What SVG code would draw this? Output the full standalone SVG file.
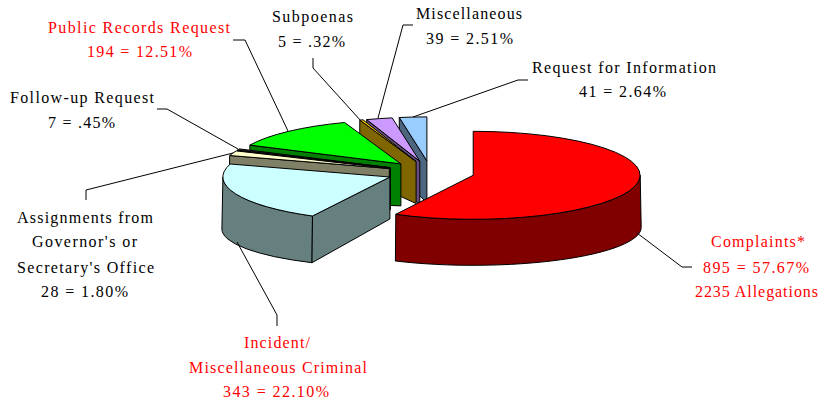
<svg xmlns="http://www.w3.org/2000/svg" width="823" height="404" viewBox="0 0 823 404">
<style>
  .f { stroke: #000; stroke-width: 1; stroke-linejoin: round; }
  .t { font-family: "Liberation Serif", "Times New Roman", serif; font-size: 16px; fill: #000; }
  .r { fill: #FF0000; }
  .lead { fill: none; stroke: #000; stroke-width: 1; }
</style>
<rect width="823" height="404" fill="#fff"/>

<g id="request-for-information">
  <path class="f" fill="#4D6680" d="M426.9,160.9 L399.3,117.5 L399.2,175.4 L426.9,202.9 Z"/>
  <path class="f" fill="#99CCFF" d="M426.9,160.9 L399.3,117.5 A167,44 0 0 1 426.9,116.9 Z"/>
  <text class="t" x="532" y="73" textLength="184" lengthAdjust="spacing">Request for Information</text>
  <text class="t" x="579" y="97" textLength="87" lengthAdjust="spacing">41 = 2.64%</text>
</g>

<g id="miscellaneous">
  <path class="f" fill="#664D80" d="M419.8,161.3 L366.7,119.6 L366.4,177.3 L419.8,203.3 Z"/>
  <path class="f" fill="#CC99FF" d="M419.8,161.3 L366.7,119.6 A167,44 0 0 1 392.2,117.9 Z"/>
  <text class="t" x="416" y="19" textLength="106" lengthAdjust="spacing">Miscellaneous</text>
  <text class="t" x="426" y="44" textLength="87" lengthAdjust="spacing">39 = 2.51%</text>
</g>

<g id="subpoenas">
  <path class="f" fill="#806600" d="M416.1,161.5 L359.8,120.1 L359.5,177.7 L416.1,203.5 Z"/>
  <path class="f" fill="#FFCC00" d="M416.1,161.5 L359.8,120.1 A167,44 0 0 1 363.0,119.8 Z"/>
  <text class="t" x="272" y="22" textLength="81" lengthAdjust="spacing">Subpoenas</text>
  <text class="t" x="278" y="47" textLength="67" lengthAdjust="spacing">5 = .32%</text>
</g>

<g id="public-records-request">
  <path class="f" fill="#008000" d="M400.9,163.9 L249.9,145.1 L249.0,199.7 L400.9,205.9 Z"/>
  <path class="f" fill="#00FF00" d="M400.9,163.9 L249.9,145.1 A167,44 0 0 1 344.6,122.5 Z"/>
  <text class="t r" x="48" y="33" textLength="182" lengthAdjust="spacing">Public Records Request</text>
  <text class="t r" x="87" y="57" textLength="105" lengthAdjust="spacing">194 = 12.51%</text>
</g>

<g id="follow-up-request">
  <path class="f" fill="#1A1A1A" d="M390.4,167.7 L237.4,150.1 L236.5,204.5 L390.4,209.7 Z"/>
  <path class="f" fill="#333333" d="M390.4,167.7 L237.4,150.1 A167,44 0 0 1 239.4,148.9 Z"/>
  <text class="t" x="10" y="103" textLength="144" lengthAdjust="spacing">Follow-up Request</text>
  <text class="t" x="48" y="128" textLength="67" lengthAdjust="spacing">7 = .45%</text>
</g>

<g id="assignments">
  <path class="f" fill="#808066" d="M389.3,168.5 L229.7,155.5 L228.8,209.3 L389.3,210.5 Z"/>
  <path class="f" fill="#FFFFCC" d="M389.3,168.5 L229.7,155.5 A167,44 0 0 1 236.3,150.9 Z"/>
  <text class="t" x="17" y="223" textLength="136" lengthAdjust="spacing">Assignments from</text>
  <text class="t" x="32" y="247" textLength="105" lengthAdjust="spacing">Governor's or</text>
  <text class="t" x="17" y="273" textLength="137" lengthAdjust="spacing">Secretary's Office</text>
  <text class="t" x="41" y="297" textLength="87" lengthAdjust="spacing">28 = 1.80%</text>
</g>

<g id="incident-criminal">
  <path class="f" fill="#668080" d="M312.5,216.0 A167,44 0 0 1 222.9,177.0 L221.9,229.0 A168,38 0 0 0 312.0,262.7 Z"/>
  <path class="f" fill="#668080" d="M389.9,177 L312.5,216.0 L312.0,262.7 L389.9,219 Z"/>
  <path class="f" fill="#CCFFFF" d="M389.9,177 L312.5,216.0 A167,44 0 0 1 230.3,164.0 Z"/>
  <text class="t r" x="244" y="348" textLength="66" lengthAdjust="spacing">Incident/</text>
  <text class="t r" x="189" y="373" textLength="178" lengthAdjust="spacing">Miscellaneous Criminal</text>
  <text class="t r" x="223" y="397" textLength="106" lengthAdjust="spacing">343 = 22.10%</text>
</g>

<g id="complaints">
  <path class="f" fill="#800000" d="M640.2,175.3 A167,44 0 0 1 395.8,214.3 L395.4,261.0 A168,38 0 0 0 641.2,227.3 Z"/>
  <path class="f" fill="#FF0000" d="M473.2,175.3 L473.2,131.3 A167,44 0 1 1 395.8,214.3 Z"/>
  <text class="t r" x="711" y="247" textLength="94" lengthAdjust="spacing">Complaints*</text>
  <text class="t r" x="703" y="273" textLength="106" lengthAdjust="spacing">895 = 57.67%</text>
  <text class="t r" x="695" y="297" textLength="123" lengthAdjust="spacing">2235 Allegations</text>
</g>

<g id="connectors">
  <path class="lead" d="M233,40 H245 L288,131"/>
  <path class="lead" d="M313,58 V68 L361,121"/>
  <path class="lead" d="M413,25 H403 L378,118"/>
  <path class="lead" d="M528,80 H518 L413,117"/>
  <path class="lead" d="M157,109 H167 L238,149"/>
  <path class="lead" d="M86,200 V190 L233,153"/>
  <path class="lead" d="M277,326 V315 L237,242"/>
  <path class="lead" d="M692,267 H682 L637,233"/>
</g>
</svg>
